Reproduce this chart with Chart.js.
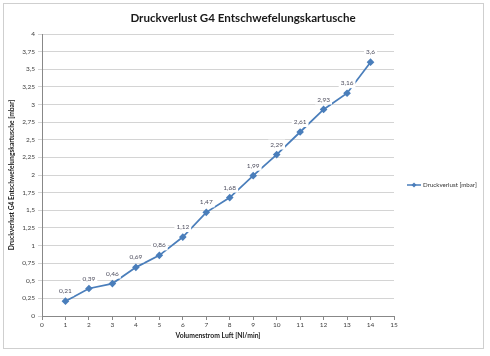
<!DOCTYPE html>
<html>
<head>
<meta charset="utf-8">
<script src="https://cdn.jsdelivr.net/npm/chart.js@4.4.1/dist/chart.umd.min.js"></script>
<style>
  body { margin: 0; background: #fff; }
  canvas { display: block; }
</style>
</head>
<body>
<canvas id="grafico" width="490" height="356"></canvas>
<script>
const volumenstrom = [1, 2, 3, 4, 5, 6, 7, 8, 9, 10, 11, 12, 13, 14];
const druckverlust = [0.21, 0.39, 0.46, 0.69, 0.86, 1.12, 1.47, 1.68, 1.99, 2.29, 2.61, 2.93, 3.16, 3.6];
const serienName = "Druckverlust [mbar]";
const titel = "Druckverlust G4 Entschwefelungskartusche";
const xTitel = "Volumenstrom Luft [Nl/min]";
const yTitel = "Druckverlust G4 Entschwefelungskartusche [mbar]";

const blau = "#4a7ebb";
const schrift = "Lato, 'Open Sans', sans-serif";

function komma(v) {
    return String(v).replace(".", ",");
}

// Rahmen und Titel (Titel ueber die ganze Breite zentriert)
const rahmen = {
    id: "rahmen",
    beforeDraw(chart) {
        const ctx = chart.ctx;
        ctx.save();
        ctx.fillStyle = "#fff";
        ctx.fillRect(0, 0, chart.width, chart.height);
        ctx.strokeStyle = "#cfcfcf";
        ctx.lineWidth = 1;
        ctx.strokeRect(3.5, 3.5, 480, 345);
        ctx.font = "bold 11.6px " + schrift;
        ctx.fillStyle = "#1a1a1a";
        ctx.textAlign = "center";
        ctx.textBaseline = "middle";
        ctx.fillText(titel, 243, 18);
        ctx.restore();
    }
};

// Datenbeschriftungen mit weissem Hintergrund
const beschriftung = {
    id: "beschriftung",
    afterDatasetsDraw(chart) {
        const ctx = chart.ctx;
        const meta = chart.getDatasetMeta(0);
        ctx.save();
        ctx.font = "6.5px " + schrift;
        ctx.textAlign = "center";
        ctx.textBaseline = "middle";
        meta.data.forEach((pt, i) => {
            const txt = komma(chart.data.datasets[0].data[i].y);
            const w = ctx.measureText(txt).width + 4;
            const x = pt.x;
            const y = pt.y - 10;
            ctx.fillStyle = "#fff";
            ctx.fillRect(x - w / 2, y - 5, w, 10);
            ctx.fillStyle = "#505060";
            ctx.fillText(txt, x, y);
        });
        ctx.restore();
    }
};

// Legende rechts
const legende = {
    id: "legende",
    afterDraw(chart) {
        const ctx = chart.ctx;
        const y = 185;
        ctx.save();
        ctx.strokeStyle = blau;
        ctx.lineWidth = 1.5;
        ctx.beginPath();
        ctx.moveTo(407, y);
        ctx.lineTo(421, y);
        ctx.stroke();
        ctx.fillStyle = blau;
        ctx.beginPath();
        ctx.moveTo(414, y - 2.5);
        ctx.lineTo(416.5, y);
        ctx.lineTo(414, y + 2.5);
        ctx.lineTo(411.5, y);
        ctx.closePath();
        ctx.fill();
        ctx.font = "6.2px " + schrift;
        ctx.fillStyle = "#333";
        ctx.textBaseline = "middle";
        ctx.fillText(serienName, 423, y);
        ctx.restore();
    }
};

function criarGrafico() {
    const canvas = document.getElementById("grafico");

    new Chart(canvas, {
        type: "line",
        data: {
            datasets: [
                {
                    label: serienName,
                    data: volumenstrom.map((x, i) => ({ x: x, y: druckverlust[i] })),
                    borderColor: blau,
                    backgroundColor: blau,
                    borderWidth: 1.75,
                    pointStyle: "rectRot",
                    pointRadius: 2.6,
                    tension: 0,
                    fill: false
                }
            ]
        },
        options: {
            responsive: false,
            animation: false,
            layout: { padding: { left: 0, right: 96, top: 34, bottom: 0 } },
            plugins: {
                legend: { display: false },
                tooltip: { enabled: false },
                title: { display: false }
            },
            scales: {
                x: {
                    type: "linear",
                    min: 0,
                    max: 15,
                    afterFit(scale) { scale.height = 40; },
                    border: { color: "#888", width: 1 },
                    grid: { drawOnChartArea: false, drawTicks: true, tickLength: 4, color: "#888" },
                    ticks: {
                        stepSize: 1,
                        padding: 1,
                        color: "#404040",
                        font: { family: schrift, size: 6.5 },
                        callback: v => komma(v)
                    },
                    title: {
                        display: true,
                        text: xTitel,
                        color: "#1a1a1a",
                        font: { family: schrift, size: 6.8, weight: "bold", lineHeight: 1.2 },
                        padding: 16
                    }
                },
                y: {
                    min: 0,
                    max: 4,
                    afterFit(scale) { scale.width = 42; },
                    border: { color: "#888", width: 1 },
                    grid: { color: "#d4d4d4", tickLength: 4, drawTicks: true },
                    ticks: {
                        stepSize: 0.25,
                        padding: 3,
                        color: "#404040",
                        font: { family: schrift, size: 6.5 },
                        callback: v => komma(v)
                    },
                    title: {
                        display: true,
                        text: yTitel,
                        color: "#1a1a1a",
                        font: { family: schrift, size: 6.7, weight: "bold", lineHeight: 1.2 },
                        padding: 8
                    }
                }
            }
        },
        plugins: [rahmen, beschriftung, legende]
    });
}

window.onload = criarGrafico;
</script>
</body>
</html>
